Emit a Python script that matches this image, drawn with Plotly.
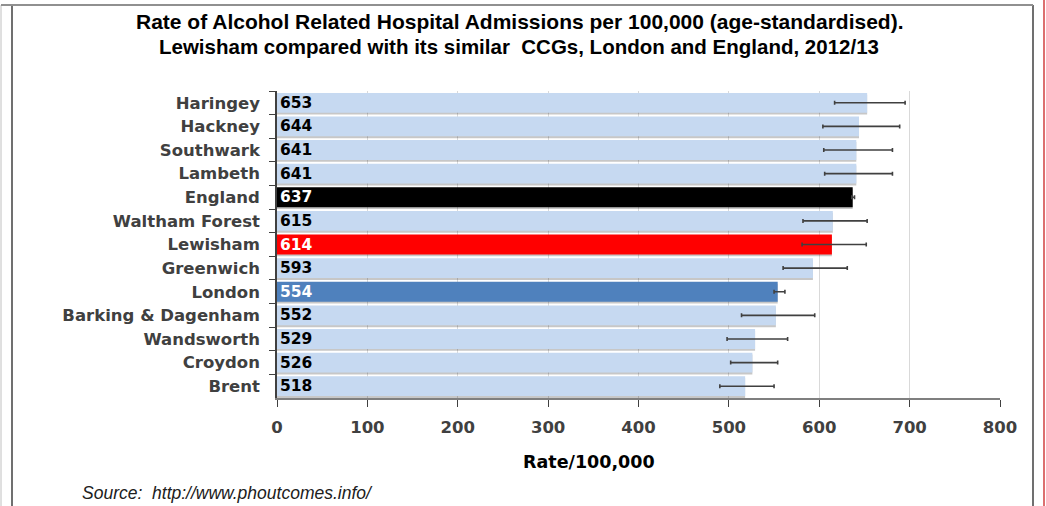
import plotly.graph_objects as go

areas = ["Haringey", "Hackney", "Southwark", "Lambeth", "England", "Waltham Forest",
         "Lewisham", "Greenwich", "London", "Barking & Dagenham", "Wandsworth",
         "Croydon", "Brent"]
rates = [653, 644, 641, 641, 637, 615, 614, 593, 554, 552, 529, 526, 518]
ci_low = [617, 604, 605, 606, 636, 582, 581, 560, 550, 514, 498, 502, 490]
ci_high = [695, 689, 681, 681, 639, 653, 652, 631, 562, 595, 565, 554, 550]
x_ticks = [0, 100, 200, 300, 400, 500, 600, 700, 800]
title_lines = ["Rate of Alcohol Related Hospital Admissions per 100,000 (age-standardised).",
               "Lewisham compared with its similar  CCGs, London and England, 2012/13"]
x_title = "Rate/100,000"
source_text = "Source:  http://www.phoutcomes.info/"

LIGHT = "#C6D9F1"
special_colors = {"England": "#000000", "Lewisham": "#FF0000", "London": "#4F81BD"}
bar_colors = [special_colors.get(a, LIGHT) for a in areas]
text_colors = ["#FFFFFF" if a in special_colors else "#000000" for a in areas]

# plot area in pixels
PL, PR, PT, PB = 277, 1000, 91, 398
PW, PH = PR - PL, PB - PT


def px(x):
    return (x - PL) / PW


def py(y):
    return (PB - y) / PH


W = 0.84
fig = go.Figure()
fig.add_trace(go.Bar(
    y=areas, x=rates, orientation="h",
    marker=dict(color="rgba(0,0,0,0.22)", line=dict(width=0)),
    width=W, offset=-W / 2 + 0.08, hoverinfo="skip", showlegend=False,
))
fig.add_trace(go.Bar(
    y=areas, x=rates, orientation="h",
    marker=dict(color=bar_colors, line=dict(width=0)),
    width=W, offset=-W / 2,
    text=[str(v) for v in rates], textposition="inside", insidetextanchor="start",
    textangle=0, constraintext="none",
    textfont=dict(family="DejaVu Sans", size=15.5, color=text_colors, weight="bold"),
    showlegend=False,
))
fig.add_trace(go.Scatter(
    y=areas, x=rates, mode="markers",
    marker=dict(size=1, color="rgba(0,0,0,0)"),
    error_x=dict(type="data", symmetric=False,
                 array=[h - r for h, r in zip(ci_high, rates)],
                 arrayminus=[r - l for r, l in zip(rates, ci_low)],
                 color="#404040", thickness=1.6, width=2),
    showlegend=False, hoverinfo="skip",
))

fig.update_layout(
    width=1046, height=506,
    margin=dict(l=PL, r=1046 - PR, t=PT, b=506 - PB),
    paper_bgcolor="white", plot_bgcolor="white",
    barmode="overlay",
    xaxis=dict(
        range=[0, 800], tickvals=x_ticks, ticktext=[str(t) for t in x_ticks],
        showgrid=True, gridcolor="#D9D9D9", gridwidth=1,
        showline=True, linecolor="#7F7F7F", linewidth=2,
        ticks="outside", ticklen=7, tickcolor="#404040", tickwidth=1,
        ticklabelstandoff=6,
        tickfont=dict(family="DejaVu Sans", size=16.5, color="#404040", weight="bold"),
        zeroline=False, fixedrange=True,
    ),
    yaxis=dict(
        range=[len(areas) - 0.5, -0.5], categoryorder="array", categoryarray=areas,
        showline=True, linecolor="#404040", linewidth=1.5,
        ticks="outside", tickson="boundaries", ticklen=6, tickcolor="#404040",
        ticklabelstandoff=12,
        tickfont=dict(family="DejaVu Sans", size=16.5, color="#404040", weight="bold"),
        showgrid=False, fixedrange=True,
    ),
    shapes=[
        dict(type="line", xref="paper", yref="paper",
             x0=px(12), x1=px(12), y0=py(5), y1=py(510),
             line=dict(color="#404040", width=1.5)),
        dict(type="line", xref="paper", yref="paper",
             x0=px(1), x1=px(1), y0=py(5), y1=py(510),
             line=dict(color="#C0C0C0", width=1)),
        dict(type="line", xref="paper", yref="paper",
             x0=px(1033), x1=px(1033), y0=py(5), y1=py(510),
             line=dict(color="#404040", width=1.5)),
        dict(type="line", xref="paper", yref="paper",
             x0=px(1), x1=px(1033), y0=py(5), y1=py(5),
             line=dict(color="#909090", width=2)),
        dict(type="line", xref="paper", yref="paper",
             x0=px(1044), x1=px(1044), y0=py(-5), y1=py(510),
             line=dict(color="#D04040", width=1.5)),
    ],
    annotations=[
        dict(text="<b>" + title_lines[0] + "</b>", xref="paper", yref="paper",
             x=px(519), y=py(22), xanchor="center", yanchor="middle", showarrow=False,
             font=dict(family="Liberation Sans", size=21, color="#000000")),
        dict(text="<b>" + title_lines[1] + "</b>", xref="paper", yref="paper",
             x=px(519), y=py(47), xanchor="center", yanchor="middle", showarrow=False,
             font=dict(family="Liberation Sans", size=20.5, color="#000000")),
        dict(text="<b>" + x_title + "</b>", xref="paper", yref="paper",
             x=px(589), y=py(462), xanchor="center", yanchor="middle", showarrow=False,
             font=dict(family="DejaVu Sans", size=17.5, color="#000000")),
        dict(text="<i>" + source_text + "</i>", xref="paper", yref="paper",
             x=px(80), y=py(493), xanchor="left", yanchor="middle",
             showarrow=False, font=dict(family="Liberation Sans", size=17.5, color="#202020")),
    ],
)

fig.write_html("out.html", config={"displayModeBar": False},
               post_script="document.body.style.margin='0';")
